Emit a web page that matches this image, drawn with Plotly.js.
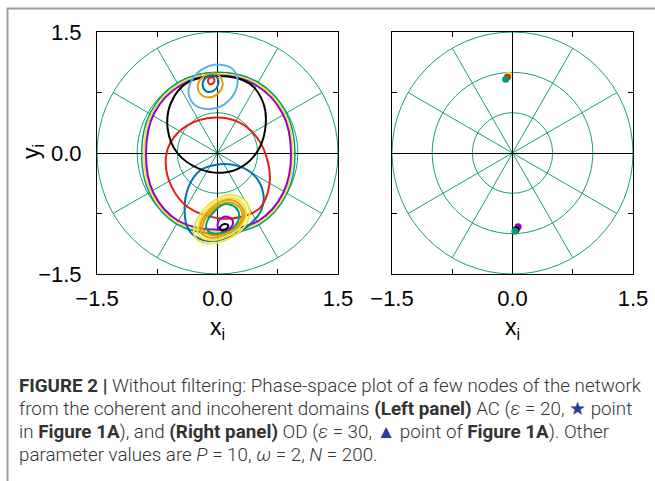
<!DOCTYPE html>
<html>
<head>
<meta charset="utf-8">
<script src="https://cdn.plot.ly/plotly-3.0.1.min.js"></script>
<style>
  html, body { margin: 0; padding: 0; background: #fff; }
  #fig { width: 655px; height: 481px; }
</style>
</head>
<body>
<div id="fig"></div>
<script>
// ---- Phase-space orbits, left panel (AC state). Each closed loop repeats its first point. ----
// large orbits enclosing both equilibria
const purpleRingX = [0.915, 0.81, 0.48, 0.01, -0.46, -0.79, -0.89, -0.80, -0.49, 0.01, 0.51, 0.82, 0.915];
const purpleRingY = [0.00, 0.49, 0.84, 0.96, 0.84, 0.49, 0.00, -0.49, -0.84, -0.95, -0.84, -0.49, 0.00];
const yellowRingX = [0.935, 0.83, 0.49, 0.01, -0.47, -0.81, -0.915, -0.82, -0.50, 0.01, 0.52, 0.84, 0.935];
const yellowRingY = [0.00, 0.50, 0.86, 0.98, 0.86, 0.50, 0.00, -0.50, -0.86, -0.975, -0.86, -0.50, 0.00];
const greenRingX = [0.965, 0.85, 0.50, 0.01, -0.48, -0.83, -0.945, -0.84, -0.51, 0.01, 0.53, 0.86, 0.965];
const greenRingY = [0.00, 0.51, 0.88, 1.00, 0.88, 0.51, 0.00, -0.51, -0.88, -1.00, -0.88, -0.51, 0.00];
// medium orbits
const blackLoopX = [0.02, 0.40, 0.57, 0.60, 0.52, 0.32, 0.06, -0.24, -0.50, -0.62, -0.58, -0.38, 0.02];
const blackLoopY = [0.955, 0.86, 0.62, 0.35, 0.06, -0.16, -0.245, -0.19, 0.00, 0.30, 0.62, 0.87, 0.955];
const redLoopX = [-0.03, -0.38, -0.59, -0.645, -0.57, -0.37, 0.01, 0.30, 0.53, 0.645, 0.63, 0.50, 0.27, -0.03];
const redLoopY = [0.44, 0.34, 0.12, -0.12, -0.42, -0.67, -0.81, -0.79, -0.68, -0.40, -0.12, 0.18, 0.38, 0.44];
const blueLoopX = [0.03, -0.22, -0.36, -0.41, -0.36, -0.18, 0.10, 0.36, 0.54, 0.57, 0.45, 0.25, 0.03];
const blueLoopY = [-0.14, -0.22, -0.42, -0.70, -0.95, -1.08, -1.06, -0.92, -0.72, -0.50, -0.27, -0.16, -0.14];
// orbits around the upper equilibrium
const skyTopX = [0.03, -0.17, -0.31, -0.36, -0.27, -0.10, 0.08, 0.21, 0.25, 0.19, 0.03];
const skyTopY = [1.095, 1.05, 0.92, 0.74, 0.585, 0.545, 0.60, 0.74, 0.90, 1.04, 1.095];
const orangeTopX = [-0.04, -0.17, -0.245, -0.21, -0.10, 0.02, 0.065, 0.03, -0.04];
const orangeTopY = [0.985, 0.95, 0.84, 0.73, 0.69, 0.75, 0.86, 0.95, 0.985];
const blueTopX = [-0.06, -0.15, -0.185, -0.14, -0.05, 0.005, 0.00, -0.06];
const blueTopY = [0.965, 0.93, 0.84, 0.765, 0.77, 0.84, 0.93, 0.965];
const redTopX = [-0.075, -0.115, -0.11, -0.07, -0.04, -0.045, -0.075];
const redTopY = [0.94, 0.915, 0.865, 0.855, 0.885, 0.925, 0.94];
// orbits around the lower equilibrium
const yellowLowAX = [0.18, 0.33, 0.40, 0.33, 0.12, -0.13, -0.28, -0.27, -0.12, 0.05, 0.18];
const yellowLowAY = [-0.52, -0.58, -0.72, -0.92, -1.07, -1.12, -1.04, -0.86, -0.65, -0.54, -0.52];
const yellowLowBX = [0.17, 0.30, 0.36, 0.29, 0.11, -0.10, -0.24, -0.23, -0.10, 0.05, 0.17];
const yellowLowBY = [-0.555, -0.61, -0.735, -0.91, -1.035, -1.08, -1.01, -0.86, -0.675, -0.575, -0.555];
const orangeLowAX = [0.16, 0.28, 0.335, 0.27, 0.10, -0.09, -0.21, -0.20, -0.08, 0.05, 0.16];
const orangeLowAY = [-0.58, -0.64, -0.75, -0.90, -1.01, -1.05, -0.98, -0.85, -0.69, -0.60, -0.58];
const orangeLowBX = [0.15, 0.26, 0.31, 0.25, 0.09, -0.07, -0.18, -0.17, -0.06, 0.05, 0.15];
const orangeLowBY = [-0.61, -0.66, -0.765, -0.895, -0.99, -1.02, -0.96, -0.85, -0.71, -0.63, -0.61];
const greenLowX = [0.135, 0.235, 0.27, 0.21, 0.07, -0.07, -0.14, -0.12, -0.03, 0.05, 0.135];
const greenLowY = [-0.635, -0.685, -0.79, -0.91, -0.985, -0.995, -0.93, -0.83, -0.715, -0.65, -0.635];
const purpleLowX = [0.12, 0.19, 0.17, 0.08, 0.01, 0.01, 0.06, 0.12];
const purpleLowY = [-0.79, -0.84, -0.92, -0.96, -0.93, -0.85, -0.80, -0.79];
const blackLowX = [0.10, 0.135, 0.11, 0.05, 0.03, 0.06, 0.10];
const blackLowY = [-0.88, -0.90, -0.94, -0.96, -0.93, -0.89, -0.88];

// ---- Right panel (OD state): nodes settle on the two equilibria ----
const odYellowX = [-0.05],  odYellowY = [0.965];
const odRedX = [-0.065],    odRedY = [0.94];
const odGreenTopX = [-0.085], odGreenTopY = [0.915];
const odPurpleX = [0.07],   odPurpleY = [-0.915];
const odBlackX = [0.045],   odBlackY = [-0.95];
const odGreenLowX = [0.03], odGreenLowY = [-0.97];

// axis ticks: labelled major ticks and unlabelled minor ticks
const tickVals = [-1.5, 0, 1.5];
const tickText = ['\u22121.5', '0.0', '1.5'];
const minorTickVals = [-0.75, 0.75];
// polar reference grid
const gridRadii = [0.5, 1.0, 1.5];
const spokeAngles = [30, 60, 120, 150, 210, 240, 300, 330];

// caption lines
const STAR = '#2a3c94';
const captionLines = [
  '<b>FIGURE 2 |</b> Without filtering: Phase-space plot of a few nodes of the network',
  'from the coherent and incoherent domains <b>(Left panel)</b> AC (<i>\u03b5</i> = 20, <span style="color:' + STAR + '">\u2605</span> point',
  'in <b>Figure 1A</b>), and <b>(Right panel)</b> OD (<i>\u03b5</i> = 30, <span style="color:' + STAR + '">\u25b2</span> point of <b>Figure 1A</b>). Other',
  'parameter values are <i>P</i> = 10, <i>\u03c9</i> = 2, <i>N</i> = 200.'
];

const C = {
  purple: '#9400d3', green: '#009e73', sky: '#56b4e9', orange: '#e69f00',
  yellow: '#f0e442', blue: '#0072b2', red: '#e51e10', black: '#000000'
};
const GRID = '#1b9e75';
const W = 655, H = 481;
const px = v => v / W, py = v => 1 - v / H;

function orbit(xs, ys, color, width) {
  return { x: xs, y: ys, xaxis: 'x', yaxis: 'y', type: 'scatter', mode: 'lines',
           line: { color: color, width: width || 2, shape: 'spline', smoothing: 1 }, hoverinfo: 'skip' };
}
function dot(xs, ys, color) {
  return { x: xs, y: ys, xaxis: 'x2', yaxis: 'y2', type: 'scatter', mode: 'markers',
           marker: { color: color, size: 7 }, hoverinfo: 'skip' };
}

const traces = [
  orbit(greenRingX, greenRingY, C.green, 1.5),
  orbit(yellowRingX, yellowRingY, C.yellow),
  orbit(purpleRingX, purpleRingY, C.purple),
  orbit(blueLoopX, blueLoopY, C.blue),
  orbit(redLoopX, redLoopY, C.red),
  orbit(blackLoopX, blackLoopY, C.black),
  orbit(skyTopX, skyTopY, C.sky),
  orbit(orangeTopX, orangeTopY, C.orange),
  orbit(blueTopX, blueTopY, C.blue),
  orbit(redTopX, redTopY, C.red),
  orbit(yellowLowAX, yellowLowAY, C.yellow),
  orbit(yellowLowBX, yellowLowBY, C.yellow),
  orbit(orangeLowAX, orangeLowAY, C.orange),
  orbit(orangeLowBX, orangeLowBY, C.orange),
  orbit(greenLowX, greenLowY, C.green),
  orbit(purpleLowX, purpleLowY, C.purple),
  orbit(blackLowX, blackLowY, C.black),
  dot(odYellowX, odYellowY, C.yellow),
  dot(odRedX, odRedY, C.red),
  dot(odGreenTopX, odGreenTopY, C.green),
  dot(odPurpleX, odPurpleY, C.purple),
  dot(odBlackX, odBlackY, C.black),
  dot(odGreenLowX, odGreenLowY, C.green)
];

function polarGrid(xref, yref) {
  const out = [];
  gridRadii.forEach(r => out.push({ type: 'circle', xref, yref, x0: -r, x1: r, y0: -r, y1: r,
    line: { color: GRID, width: 1 }, layer: 'below' }));
  const R = gridRadii[gridRadii.length - 1];
  spokeAngles.forEach(a => {
    const t = a * Math.PI / 180;
    out.push({ type: 'line', xref, yref, x0: 0, y0: 0, x1: R * Math.cos(t), y1: R * Math.sin(t),
      line: { color: GRID, width: 1 }, layer: 'below' });
  });
  return out;
}

const tickFont = { family: 'Liberation Sans, Arial, sans-serif', size: 22, color: '#000' };
const titleFont = { family: 'Liberation Sans, Arial, sans-serif', size: 23, color: '#000' };
function axis(domain, labels, anchor, standoff, title, titleStandoff) {
  const a = {
    domain, anchor, range: [-1.5, 1.5], tickmode: 'array', tickvals: tickVals,
    ticktext: tickText, showticklabels: labels,
    ticks: 'inside', ticklen: 5, tickwidth: 1, tickcolor: '#000',
    minor: { tickmode: 'array', tickvals: minorTickVals, ticks: 'inside', ticklen: 5, tickwidth: 1,
             tickcolor: '#000', showgrid: false },
    showline: true, linecolor: '#000', linewidth: 1, mirror: 'allticks',
    showgrid: false, zeroline: true, zerolinecolor: '#000', zerolinewidth: 1,
    fixedrange: true, tickfont: tickFont, ticklabelstandoff: standoff, automargin: false
  };
  if (title) a.title = { text: title, font: titleFont, standoff: titleStandoff };
  return a;
}

const yDom = [py(274), py(32)];
const capFont = { family: 'Roboto, Liberation Sans, sans-serif', size: 18.8, color: '#333', weight: 300 };
const capRows = [386, 409, 432, 455];

const layout = {
  width: W, height: H, margin: { l: 0, r: 0, t: 0, b: 0 },
  paper_bgcolor: '#fff', plot_bgcolor: '#fff', showlegend: false,
  xaxis: axis([px(97), px(338)], true, 'y', 5, 'x<sub>i</sub>', 8),
  yaxis: axis(yDom, true, 'x', 10),
  xaxis2: axis([px(392), px(633)], true, 'y2', 5, 'x<sub>i</sub>', 8),
  yaxis2: axis(yDom, false, 'x2', 10),
  shapes: [
    ...polarGrid('x', 'y'),
    ...polarGrid('x2', 'y2'),
    { type: 'line', xref: 'paper', yref: 'paper', x0: px(7.5), x1: px(7.5), y0: py(8.5), y1: -0.1,
      line: { color: '#9b9b9b', width: 2 } },
    { type: 'line', xref: 'paper', yref: 'paper', x0: px(6.5), x1: 1.1, y0: py(8.5), y1: py(8.5),
      line: { color: '#9b9b9b', width: 2 } }
  ],
  annotations: [
    { text: 'y<sub>i</sub>', xref: 'paper', yref: 'paper', x: px(32), y: py(152), textangle: -90,
      xanchor: 'center', yanchor: 'middle', showarrow: false, font: titleFont },
    ...captionLines.map((t, i) => ({
      text: t, xref: 'paper', yref: 'paper', x: px(17), y: py(capRows[i]),
      xanchor: 'left', yanchor: 'middle', align: 'left', showarrow: false, font: capFont
    }))
  ]
};

Plotly.newPlot('fig', traces, layout, { staticPlot: true, displayModeBar: false });
</script>
</body>
</html>
